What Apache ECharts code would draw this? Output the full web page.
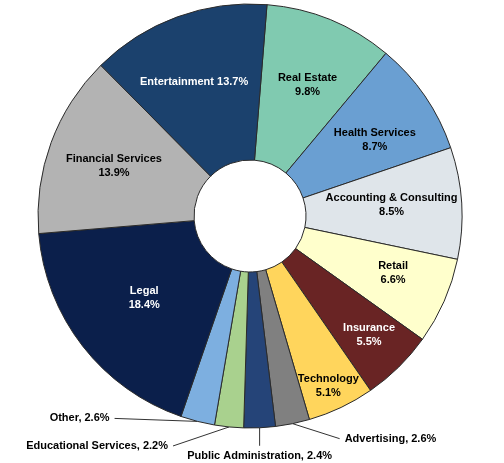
<!DOCTYPE html>
<html>
<head>
<meta charset="utf-8">
<script src="https://cdn.jsdelivr.net/npm/echarts@6/dist/echarts.min.js"></script>
<style>html,body{margin:0;padding:0;background:#fff}#c{width:504px;height:463px}</style>
</head>
<body>
<div id="c"></div>
<script>
const categories = ['Real Estate','Health Services','Accounting & Consulting','Retail','Insurance','Technology','Advertising','Public Administration','Educational Services','Other','Legal','Financial Services','Entertainment'];
const values = [9.8, 8.7, 8.5, 6.6, 5.5, 5.1, 2.6, 2.4, 2.2, 2.6, 18.4, 13.9, 13.7];
const colors = ['#80CAB0','#6A9FD2','#DFE5EA','#FFFFCC','#692424','#FFD55C','#808080','#254478','#A9D18E','#7DAFE0','#0B1F4B','#B3B3B3','#1B416D'];
const textColors = ['#000','#000','#000','#000','#fff','#000','#000','#000','#000','#000','#fff','#000','#fff'];
const outsideNames = ['Advertising','Public Administration','Educational Services','Other'];

// layout (not data): label radius and small angle shift (deg) for inside labels
const CX = 250, CY = 216, R0 = 56, R1 = 212;
const insideLabel = {
  'Real Estate':[143, 1.5], 'Health Services':[146, 3.2], 'Accounting & Consulting':[142, -1],
  'Retail':[154, -2], 'Insurance':[168, -0.6], 'Technology':[187, 0.7],
  'Legal':[134, 0], 'Financial Services':[145, 0], 'Entertainment':[145, -2.6]
};
// leader vector from slice edge to label anchor, and side alignment
const leader = {
  'Other':[-83, -3, 'right'], 'Educational Services':[-56, 19, 'right'],
  'Public Administration':[0, 18, 'center'], 'Advertising':[47, 15, 'left']
};

const font = '"Liberation Sans", Arial, sans-serif';
const data = categories.map((name, i) => {
  const isOut = outsideNames.indexOf(name) >= 0;
  const item = { name: name, value: values[i], itemStyle: { color: colors[i] } };
  if (isOut) {
    item.label = { position: 'outside', color: '#000', formatter: '{b}, {c}%' };
    item.labelLine = { show: true, length: 10, length2: 10, lineStyle: { color: '#333', width: 1 } };
  } else {
    item.label = { position: 'inside', color: textColors[i], formatter: name === 'Entertainment' ? '{b} {c}%' : '{b}\n{c}%' };
    item.labelLine = { show: false };
  }
  return item;
});

const chart = echarts.init(document.getElementById('c'), null, { renderer: 'canvas' });
chart.setOption({
  backgroundColor: '#fff',
  animation: false,
  series: [{
    type: 'pie',
    center: [CX, CY],
    radius: [R0, R1],
    startAngle: 85.4,
    clockwise: true,
    avoidLabelOverlap: false,
    emphasis: { disabled: true },
    itemStyle: { borderColor: '#2b2b2b', borderWidth: 1 },
    label: { fontFamily: font, fontSize: 11, fontWeight: 'bold', lineHeight: 14, distanceToLabelLine: 5 },
    labelLayout: function (p) {
      const name = categories[p.dataIndex];
      const lr = p.labelRect;
      if (insideLabel[name]) {
        const lx = lr.x + lr.width / 2, ly = lr.y + lr.height / 2;
        const th = Math.atan2(lx - CX, -(ly - CY)) + insideLabel[name][1] * Math.PI / 180;
        const r = insideLabel[name][0];
        return { x: CX + r * Math.sin(th), y: CY - r * Math.cos(th), align: 'center', verticalAlign: 'middle' };
      }
      if (leader[name] && p.labelLinePoints) {
        const s = p.labelLinePoints[0];
        const L = leader[name];
        const e = [s[0] + L[0], s[1] + L[1]];
        let x = e[0], y = e[1], va = 'middle';
        if (L[2] === 'right') x -= 5;
        else if (L[2] === 'left') x += 5;
        else { y += 3; va = 'top'; }
        return { x: x, y: y, align: L[2], verticalAlign: va, labelLinePoints: [s, e, e] };
      }
      return {};
    },
    data: data
  }]
});
</script>
</body>
</html>
